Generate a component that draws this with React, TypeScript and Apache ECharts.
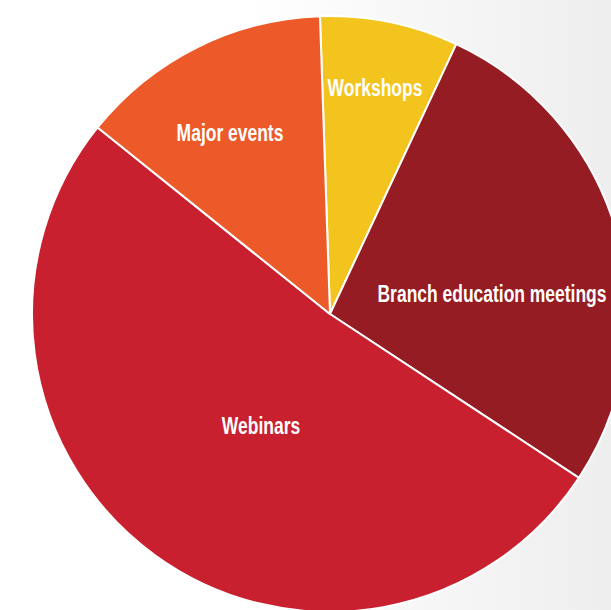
import React, { useEffect, useRef } from "react";
import * as echarts from "echarts";

const categories = ["Workshops", "Branch education meetings", "Webinars", "Major events"];
const values = [7.5, 27.3, 51.5, 13.7];
const colors = ["#F4C41E", "#941C22", "#C8202E", "#EB5A28"];
const labelPoints: [number, number][] = [
  [375, 88],
  [492, 294],
  [261, 426],
  [230, 133],
];

export default function App() {
  const ref = useRef<HTMLDivElement>(null);
  useEffect(() => {
    if (!ref.current) return;
    const chart = echarts.init(ref.current, undefined, { renderer: "svg" });
    chart.setOption({
      animation: false,
      series: [
        {
          type: "pie",
          center: [330, 314],
          radius: 298,
          startAngle: 91.93,
          clockwise: true,
          silent: true,
          itemStyle: { borderColor: "#ffffff", borderWidth: 2 },
          label: { show: false },
          labelLine: { show: false },
          data: categories.map((name, i) => ({
            name,
            value: values[i],
            itemStyle: { color: colors[i] },
          })),
        },
      ],
      graphic: categories.map((name, i) => ({
        type: "text",
        x: labelPoints[i][0],
        y: labelPoints[i][1],
        scaleX: 0.76,
        silent: true,
        z: 10,
        style: {
          text: name,
          fill: "#ffffff",
          font: "bold 23px 'Liberation Sans', Arial, sans-serif",
          textAlign: "center",
          textVerticalAlign: "middle",
        },
      })),
    });
    return () => chart.dispose();
  }, []);
  return (
    <div
      ref={ref}
      style={{
        position: "fixed",
        left: 0,
        top: 0,
        width: 611,
        height: 610,
        background: "linear-gradient(to right, #ffffff 0%, #ffffff 40%, #eeeeee 100%)",
      }}
    />
  );
}
